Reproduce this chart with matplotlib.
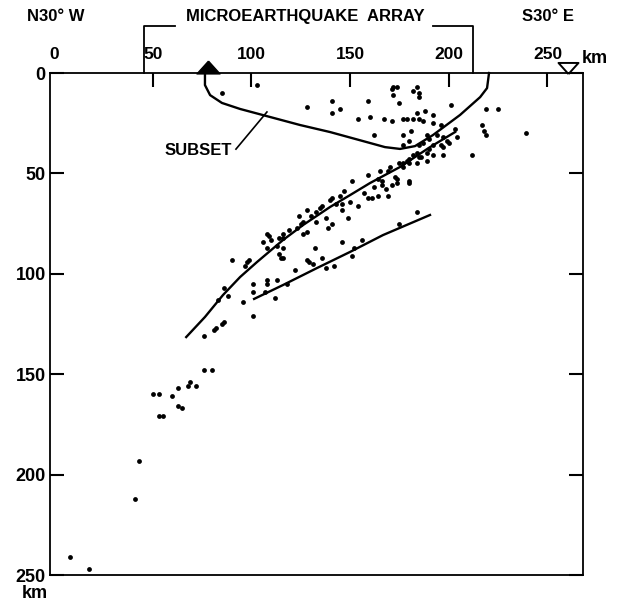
import numpy as np
import matplotlib.pyplot as plt

plt.rcParams['font.family'] = ['Liberation Sans', 'DejaVu Sans']
plt.rcParams['font.weight'] = 'bold'

# hypocentres: distance along section (km), depth (km)
quake_dist = [85, 103, 128, 141, 141, 145, 159, 154, 160, 167, 171, 177, 179, 182,
              184, 188, 185, 187, 192, 192, 172, 171, 174, 172, 182, 184, 185, 185,
              175, 201, 219, 225, 217, 218, 219, 239, 162, 177, 181, 180, 177, 203,
              204, 196, 212, 189, 190, 194, 197, 199, 187, 185, 192, 196, 190, 189,
              184, 182, 180, 179, 177, 186, 189, 197, 197, 200, 192, 185, 175, 177,
              180, 184, 170, 169, 165, 159, 173, 174, 151, 180, 166, 164, 174, 180,
              166, 171, 168, 162, 157, 159, 169, 147, 145, 141, 140, 143, 146, 150,
              154, 146, 136, 135, 133, 130, 128, 124, 149, 138, 141, 139, 133, 126,
              125, 123, 119, 116, 114, 128, 126, 109, 106, 110, 108, 113, 116, 114,
              115, 99, 97, 90, 161, 164, 108, 116, 116, 98,
              184, 175, 156, 152, 151, 146, 142, 138, 136, 132, 131, 128, 129, 122,
              113, 108, 108, 118, 112, 107, 101, 101, 101, 96, 86, 88, 83, 86, 85,
              82, 81, 76, 76, 80, 72, 69, 68, 63, 60, 53, 50, 63, 65, 53, 55, 43,
              41, 8, 18]
quake_depth = [10, 6, 17, 14, 20, 18, 14, 23, 22, 23, 24, 23, 23, 23,
               20, 19, 23, 24, 21, 25, 7, 8, 7, 11, 9, 7, 10, 12,
               15, 16, 18, 18, 26, 29, 31, 30, 31, 31, 29, 34, 36, 28,
               32, 26, 41, 31, 33, 31, 32, 34, 35, 36, 36, 36, 38, 40,
               40, 41, 43, 44, 45, 42, 44, 41, 37, 35, 41, 42, 45, 47,
               45, 45, 47, 49, 49, 51, 52, 53, 54, 54, 54, 53, 55, 55,
               56, 56, 58, 57, 60, 62, 61, 59, 61, 62, 63, 65, 65, 64,
               66, 68, 66, 67, 69, 71, 68, 71, 72, 72, 75, 77, 74, 74,
               75, 77, 78, 80, 82, 79, 80, 81, 84, 83, 87, 86, 87, 90,
               92, 93, 96, 93, 62, 61, 80, 82, 92, 94,
               69, 75, 83, 87, 91, 84, 96, 97, 92, 87, 95, 93, 94, 98,
               103, 103, 105, 105, 112, 109, 105, 109, 121, 114, 107, 111, 113, 124, 125,
               127, 128, 131, 148, 148, 156, 154, 156, 157, 161, 160, 160, 166, 167, 171, 171, 193,
               212, 241, 247]

# interpreted upper and lower seismic zones
upper_dist = [67, 76.5, 85.6, 94.3, 102.9, 116, 126.2, 139.9, 150, 160.1, 175.3, 190.5, 203.2]
upper_depth = [131.5, 121.5, 110.6, 101.6, 94.1, 83.2, 75.7, 66.7, 60.8, 54.8, 46.8, 36.9, 29.4]
lower_dist = [101.4, 116, 133.3, 150, 166.7, 190.5]
lower_depth = [112.5, 105.6, 97.1, 89.1, 80.7, 70.7]

# outline of the event subset
subset_dist = [76.5, 76.5, 79.1, 85.1, 94.3, 109.5, 124.7, 139.9, 156.6, 167.7, 175.3,
               182.9, 192.0, 205.7, 215.9, 219.4, 220.4]
subset_depth = [0, 6.0, 11.0, 14.9, 17.9, 21.9, 25.9, 29.4, 33.9, 36.9, 37.8,
                36.4, 30.9, 20.9, 12.0, 7.5, 0]

ticks = [0, 50, 100, 150, 200, 250]
array_start, array_end = 45.6, 212.3
station_km = 78.0
trench_km = 260.4

fig = plt.figure(figsize=(6.21, 6.04), dpi=100)
ax = fig.add_axes([0.0805, 0.048, 0.8583, 0.8311])

ax.scatter(quake_dist, quake_depth, s=12, c='k', linewidths=0)
ax.plot(upper_dist, upper_depth, c='k', lw=1.7)
ax.plot(lower_dist, lower_depth, c='k', lw=1.7)
ax.plot(subset_dist, subset_depth, c='k', lw=1.7, clip_on=False)

ax.set_xlim(-2, 268)
ax.set_ylim(250, 0)
ax.set_xticks(ticks)
ax.set_yticks(ticks)
ax.xaxis.tick_top()
ax.tick_params(axis='x', direction='in', length=10, width=1.5, pad=8,
               labelsize=12.5, top=True, bottom=False)
ax.tick_params(axis='y', direction='in', length=10, width=1.5, pad=3,
               labelsize=13, left=True, right=True)
ax.xaxis.get_major_ticks()[0].tick2line.set_visible(False)
for s in ax.spines.values():
    s.set_linewidth(1.3)

# station and trench markers on the surface
up_tri = [(0, 1), (-1.8, -1), (1.8, -1), (0, 1)]
down_tri = [(0, -1), (-1.8, 1), (1.8, 1), (0, -1)]
ax.plot(station_km, -3.2, marker=up_tri, ms=16.6, c='k', clip_on=False)
ax.plot(trench_km, -2.7, marker=down_tri, ms=14.4, mfc='white', mec='k',
        mew=1.4, clip_on=False)

# microearthquake array bracket
ax.plot([array_start, array_start, 61.3], [0, -23.5, -23.5], c='k', lw=1.3, clip_on=False)
ax.plot([192.0, array_end, array_end], [-23.5, -23.5, 0], c='k', lw=1.3, clip_on=False)
fig.text(0.492, 0.973, 'MICROEARTHQUAKE  ARRAY', ha='center', va='center', fontsize=12)
fig.text(0.089, 0.973, 'N30° W', ha='center', va='center', fontsize=12)
fig.text(0.882, 0.973, 'S30° E', ha='center', va='center', fontsize=12)
fig.text(0.958, 0.903, 'km', ha='center', va='center', fontsize=13)
fig.text(0.056, 0.018, 'km', ha='center', va='center', fontsize=13)

# subset label with leader
ax.text(73, 38.8, 'SUBSET', ha='center', va='center', fontsize=12)
ax.plot([92.2, 107.9], [37.9, 19.4], c='k', lw=1.2)

fig.savefig('out.png', dpi=100)
